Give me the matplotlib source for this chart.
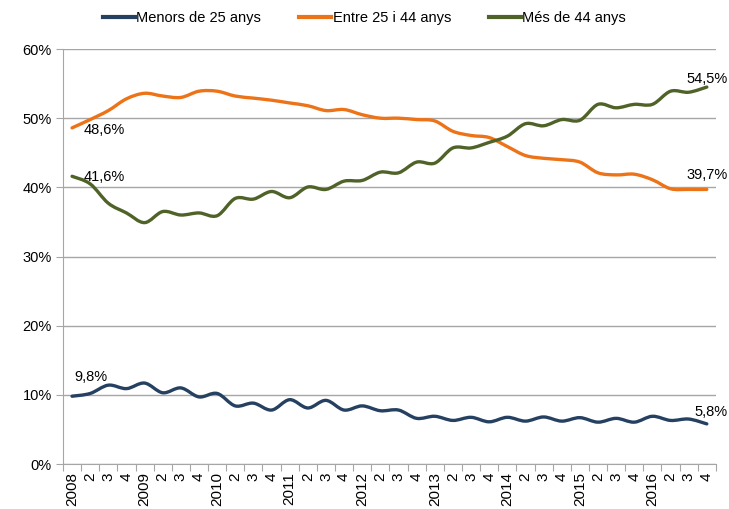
import numpy as np
import matplotlib
matplotlib.use('Agg')
import matplotlib.pyplot as plt
from matplotlib.path import Path
from matplotlib.patches import PathPatch
from matplotlib.lines import Line2D

plt.rcParams['font.family'] = ['Liberation Sans', 'DejaVu Sans']

years = list(range(2008, 2017))
quarter_labels = []
for y in years:
    quarter_labels += [str(y), '2', '3', '4']

menors = [9.8, 10.2, 11.4, 10.9, 11.7, 10.3, 11.0, 9.7, 10.2, 8.4, 8.8, 7.8,
          9.3, 8.1, 9.2, 7.8, 8.4, 7.7, 7.8, 6.6, 6.9, 6.3, 6.75, 6.1,
          6.75, 6.2, 6.8, 6.2, 6.7, 6.05, 6.6, 6.05, 6.9, 6.3, 6.5, 5.8]
entre = [48.6, 49.8, 51.1, 52.8, 53.6, 53.2, 53.0, 53.9, 53.9, 53.2, 52.9, 52.6,
         52.2, 51.8, 51.1, 51.25, 50.5, 50.0, 50.0, 49.8, 49.6, 48.1, 47.5, 47.2,
         45.9, 44.6, 44.2, 44.0, 43.65, 42.1, 41.8, 41.9, 41.1, 39.8, 39.7, 39.7]
mes = [41.6, 40.5, 37.7, 36.3, 34.9, 36.5, 36.0, 36.3, 35.9, 38.4, 38.3, 39.4,
       38.5, 40.05, 39.7, 40.9, 41.0, 42.2, 42.1, 43.65, 43.5, 45.7, 45.7, 46.5,
       47.4, 49.2, 48.9, 49.8, 49.7, 52.0, 51.5, 52.0, 52.0, 53.9, 53.75, 54.5]

names = ['Menors de 25 anys', 'Entre 25 i 44 anys', 'Més de 44 anys']
colors = ['#254061', '#ed7318', '#4f6228']


def smooth_path(x, y):
    # Catmull-Rom style smoothing drawn as cubic Bezier segments
    pts = np.column_stack([x, y])
    verts = [pts[0]]
    codes = [Path.MOVETO]
    n = len(pts)
    for i in range(n - 1):
        p0 = pts[i - 1] if i > 0 else pts[i]
        p1 = pts[i]
        p2 = pts[i + 1]
        p3 = pts[i + 2] if i + 2 < n else pts[i + 1]
        c1 = p1 + (p2 - p0) / 6.0
        c2 = p2 - (p3 - p1) / 6.0
        verts += [c1, c2, p2]
        codes += [Path.CURVE4] * 3
    return Path(verts, codes)


fig = plt.figure(figsize=(7.29, 5.09), dpi=100)
ax = fig.add_axes([0.0864, 0.0884, 0.8956, 0.8153])

x = np.arange(len(menors))
for vals, c in zip([menors, entre, mes], colors):
    patch = PathPatch(smooth_path(x, np.array(vals)), facecolor='none',
                      edgecolor=c, lw=2.4, capstyle='round', joinstyle='round',
                      zorder=3)
    ax.add_patch(patch)

ax.set_xlim(-0.5, len(menors) - 0.5)
ax.set_ylim(0, 60)
ax.set_yticks(range(0, 61, 10))
ax.set_yticklabels([f'{v}%' for v in range(0, 61, 10)], fontsize=10.5)
ax.yaxis.grid(True, color='#a6a6a6', lw=1)
ax.set_axisbelow(True)

ax.set_xticks(np.arange(-0.5, len(menors), 1))
ax.set_xticklabels([])
ax.set_xticks(x, minor=True)
ax.set_xticklabels(quarter_labels, minor=True, rotation=90, fontsize=11)
ax.tick_params(axis='x', which='major', length=5, color='#a6a6a6')
ax.tick_params(axis='x', which='minor', length=0, pad=6)
ax.tick_params(axis='y', length=5, color='#a6a6a6', pad=3)

for s in ['top', 'right']:
    ax.spines[s].set_visible(False)
for s in ['left', 'bottom']:
    ax.spines[s].set_color('#a6a6a6')

def lab(v):
    return f'{v:.1f}%'.replace('.', ',')

fs = 10.5
ax.annotate(lab(entre[0]), (0, entre[0]), xytext=(12, -2), textcoords='offset pixels',
            ha='left', va='center', fontsize=fs)
ax.annotate(lab(mes[0]), (0, mes[0]), xytext=(12, -1), textcoords='offset pixels',
            ha='left', va='center', fontsize=fs)
ax.annotate(lab(menors[0]), (0, menors[0]), xytext=(2, 19), textcoords='offset pixels',
            ha='left', va='center', fontsize=fs)
ax.annotate(lab(mes[-1]), (x[-1], mes[-1]), xytext=(21, 8), textcoords='offset pixels',
            ha='right', va='center', fontsize=fs)
ax.annotate(lab(entre[-1]), (x[-1], entre[-1]), xytext=(21, 14), textcoords='offset pixels',
            ha='right', va='center', fontsize=fs)
ax.annotate(lab(menors[-1]), (x[-1], menors[-1]), xytext=(21, 12), textcoords='offset pixels',
            ha='right', va='center', fontsize=fs)

handles = [Line2D([], [], color=c, lw=3) for c in colors]
fig.legend(handles, names, loc='center', bbox_to_anchor=(0.5, 0.964), ncol=3,
           frameon=False, fontsize=10.5, handlelength=2.2, handletextpad=0.1,
           columnspacing=2.6)

fig.savefig('out.png', dpi=100)
